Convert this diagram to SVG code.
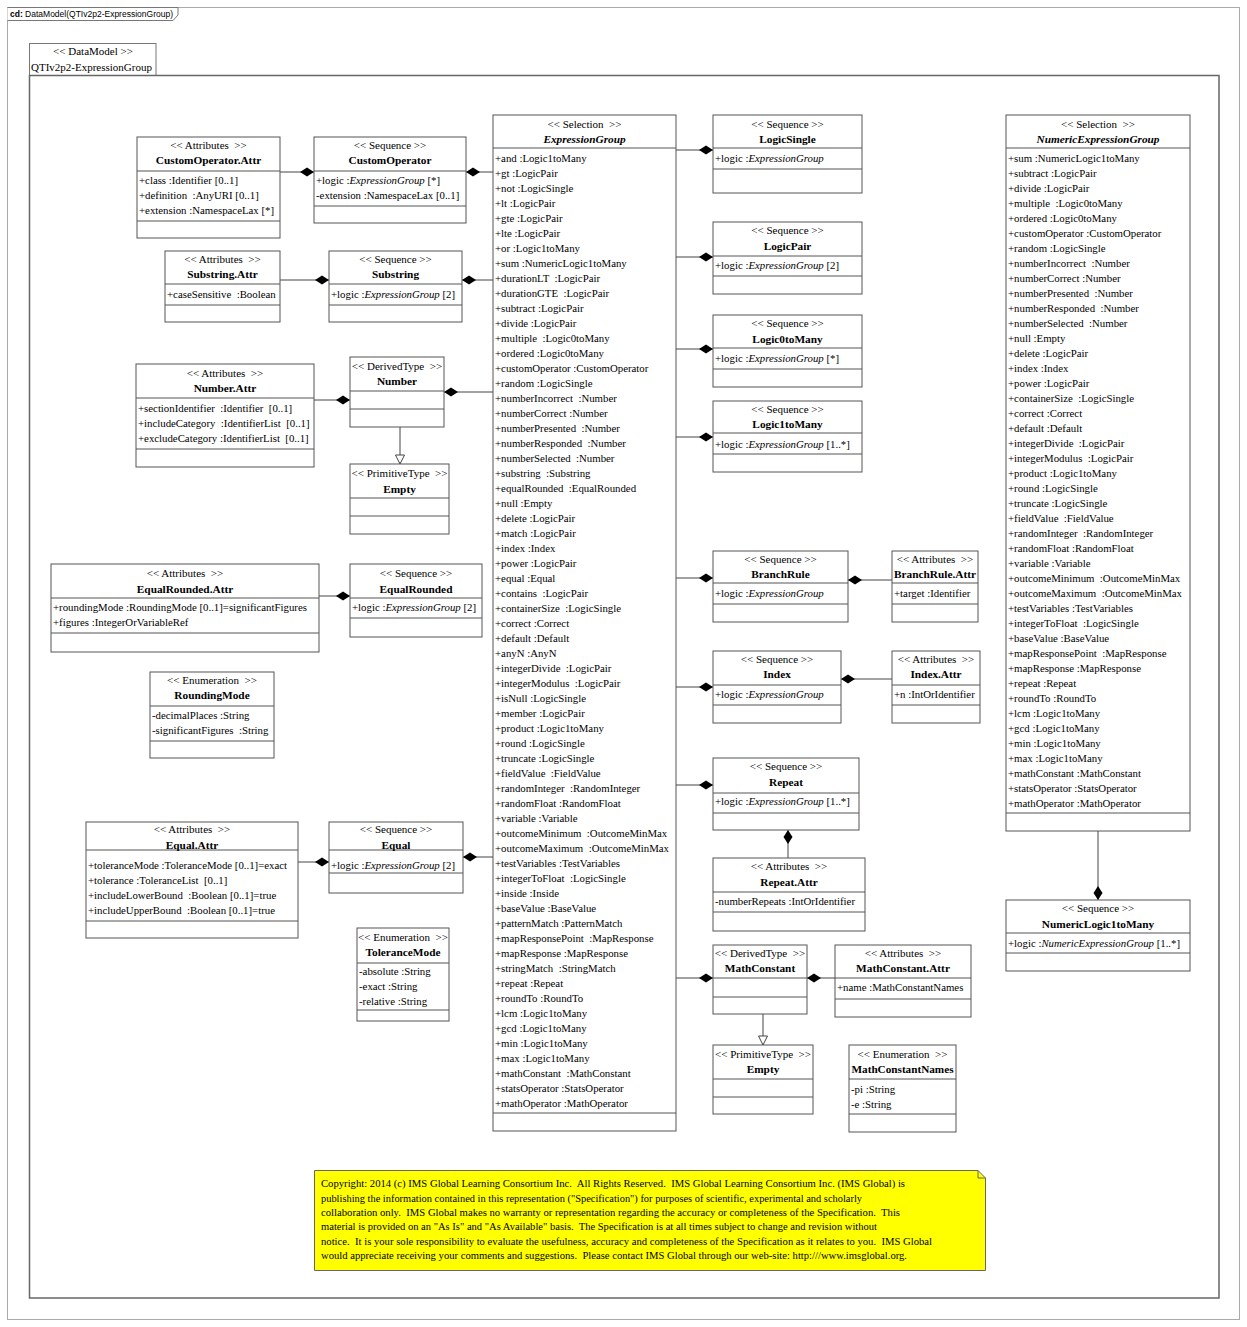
<svg xmlns="http://www.w3.org/2000/svg" width="1247" height="1327" viewBox="0 0 1247 1327">
<defs>
<style>
text{font-family:"Liberation Serif","Times New Roman",serif;fill:#000;white-space:pre}
.box{fill:#fff;stroke:#555;stroke-width:1}
.sep{fill:none;stroke:#555;stroke-width:1}
.st{font-size:11px;text-anchor:middle}
.nm{font-size:11.3px;font-weight:bold;text-anchor:middle}
.at{font-size:10.8px}
.it{font-style:italic}
.con{fill:none;stroke:#444;stroke-width:1}
.cp{font-size:10px}
</style>
<marker id="dm" markerUnits="userSpaceOnUse" markerWidth="16" markerHeight="11" viewBox="-15 -5.5 16 11" refX="0" refY="0" orient="auto"><path d="M0,0 L-7,-4.5 L-14,0 L-7,4.5 Z" fill="#000"/></marker>
<marker id="tri" markerUnits="userSpaceOnUse" markerWidth="12" markerHeight="12" viewBox="-11 -6 12 12" refX="0" refY="0" orient="auto"><path d="M0,0 L-9,-4.5 L-9,4.5 Z" fill="#fff" stroke="#444" stroke-width="1"/></marker>
</defs>
<rect x="0" y="0" width="1247" height="1327" fill="#fff"/>
<g id="frame">
<rect x="7.5" y="7.5" width="1232" height="1312" fill="none" stroke="#aaa"/>
<path d="M7.5,7.5 H178 V15 L173,20.5 H7.5" fill="#fff" stroke="#777"/>
<text x="10" y="17" style="font-family:'Liberation Sans',Arial,sans-serif;font-size:8.5px"><tspan font-weight="bold">cd:</tspan> DataModel(QTIv2p2-ExpressionGroup)</text>
</g>
<g id="package">
<rect x="29.5" y="43.5" width="126.5" height="32" fill="#fff" stroke="#777"/>
<rect x="29.5" y="75.5" width="1189.5" height="1222.5" fill="none" stroke="#666" stroke-width="1.5"/>
<text x="93" y="55" class="st">&lt;&lt; DataModel &gt;&gt;</text>
<text x="31" y="71" style="font-size:11px">QTIv2p2-ExpressionGroup</text>
</g>

<g id="connectors">
<path class="con" d="M280,172 H314" marker-end="url(#dm)"/>
<path class="con" d="M493,172 H466" marker-end="url(#dm)"/>
<path class="con" d="M280,280 H329" marker-end="url(#dm)"/>
<path class="con" d="M493,280 H462" marker-end="url(#dm)"/>
<path class="con" d="M314,400 H350" marker-end="url(#dm)"/>
<path class="con" d="M493,392 H444" marker-end="url(#dm)"/>
<path class="con" d="M400,427 V464" marker-end="url(#tri)"/>
<path class="con" d="M319,596 H350" marker-end="url(#dm)"/>
<path class="con" d="M298,862 H329" marker-end="url(#dm)"/>
<path class="con" d="M493,857 H463" marker-end="url(#dm)"/>
<path class="con" d="M676,150 H713" marker-end="url(#dm)"/>
<path class="con" d="M676,257 H713" marker-end="url(#dm)"/>
<path class="con" d="M676,349 H713" marker-end="url(#dm)"/>
<path class="con" d="M676,437 H713" marker-end="url(#dm)"/>
<path class="con" d="M676,578 H713" marker-end="url(#dm)"/>
<path class="con" d="M892,580 H848" marker-end="url(#dm)"/>
<path class="con" d="M676,687 H713" marker-end="url(#dm)"/>
<path class="con" d="M892,679 H841" marker-end="url(#dm)"/>
<path class="con" d="M676,785 H713" marker-end="url(#dm)"/>
<path class="con" d="M788,858 V830" marker-end="url(#dm)"/>
<path class="con" d="M676,978 H713" marker-end="url(#dm)"/>
<path class="con" d="M835,978 H807" marker-end="url(#dm)"/>
<path class="con" d="M763,1014 V1045" marker-end="url(#tri)"/>
<path class="con" d="M1098,831 V900" marker-end="url(#dm)"/>
</g>

<g id="CustomOperatorAttr">
<rect class="box" x="137" y="137" width="143" height="101"/>
<path class="sep" d="M137,171H280M137,221H280"/>
<text class="st" x="208.5" y="149">&lt;&lt; Attributes  &gt;&gt;</text>
<text class="nm" x="208.5" y="164">CustomOperator.Attr</text>
<text class="at" x="139" y="184">+class :Identifier [0..1]</text>
<text class="at" x="139" y="199">+definition  :AnyURI [0..1]</text>
<text class="at" x="139" y="214">+extension :NamespaceLax [*]</text>
</g>
<g id="CustomOperator">
<rect class="box" x="314" y="137" width="152" height="86"/>
<path class="sep" d="M314,171H466M314,206H466"/>
<text class="st" x="390" y="149">&lt;&lt; Sequence &gt;&gt;</text>
<text class="nm" x="390" y="164">CustomOperator</text>
<text class="at" x="316" y="184">+logic :<tspan class="it">ExpressionGroup</tspan> [*]</text>
<text class="at" x="316" y="199">-extension :NamespaceLax [0..1]</text>
</g>
<g id="SubstringAttr">
<rect class="box" x="165" y="251" width="115" height="71"/>
<path class="sep" d="M165,284H280M165,305H280"/>
<text class="st" x="222.5" y="263">&lt;&lt; Attributes  &gt;&gt;</text>
<text class="nm" x="222.5" y="278">Substring.Attr</text>
<text class="at" x="167" y="298">+caseSensitive  :Boolean</text>
</g>
<g id="Substring">
<rect class="box" x="329" y="251" width="133" height="71"/>
<path class="sep" d="M329,284H462M329,305H462"/>
<text class="st" x="395.5" y="263">&lt;&lt; Sequence &gt;&gt;</text>
<text class="nm" x="395.5" y="278">Substring</text>
<text class="at" x="331" y="298">+logic :<tspan class="it">ExpressionGroup</tspan> [2]</text>
</g>
<g id="NumberAttr">
<rect class="box" x="136" y="364" width="178" height="103"/>
<path class="sep" d="M136,398H314M136,449H314"/>
<text class="st" x="225" y="377">&lt;&lt; Attributes  &gt;&gt;</text>
<text class="nm" x="225" y="392">Number.Attr</text>
<text class="at" x="138" y="412">+sectionIdentifier  :Identifier  [0..1]</text>
<text class="at" x="138" y="427">+includeCategory  :IdentifierList  [0..1]</text>
<text class="at" x="138" y="442">+excludeCategory :IdentifierList  [0..1]</text>
</g>
<g id="Number">
<rect class="box" x="350" y="357" width="94" height="70"/>
<path class="sep" d="M350,391H444M350,409H444"/>
<text class="st" x="397" y="370">&lt;&lt; DerivedType  &gt;&gt;</text>
<text class="nm" x="397" y="385">Number</text>
</g>
<g id="Empty1">
<rect class="box" x="350" y="464" width="99" height="70"/>
<path class="sep" d="M350,498H449M350,516H449"/>
<text class="st" x="399.5" y="477">&lt;&lt; PrimitiveType  &gt;&gt;</text>
<text class="nm" x="399.5" y="493">Empty</text>
</g>
<g id="EqualRoundedAttr">
<rect class="box" x="51" y="564" width="268" height="88"/>
<path class="sep" d="M51,598H319M51,633H319"/>
<text class="st" x="185" y="577">&lt;&lt; Attributes  &gt;&gt;</text>
<text class="nm" x="185" y="593">EqualRounded.Attr</text>
<text class="at" x="53" y="611">+roundingMode :RoundingMode [0..1]=significantFigures</text>
<text class="at" x="53" y="626">+figures :IntegerOrVariableRef</text>
</g>
<g id="EqualRounded">
<rect class="box" x="350" y="564" width="132" height="73"/>
<path class="sep" d="M350,598H482M350,618H482"/>
<text class="st" x="416" y="577">&lt;&lt; Sequence &gt;&gt;</text>
<text class="nm" x="416" y="593">EqualRounded</text>
<text class="at" x="352" y="611">+logic :<tspan class="it">ExpressionGroup</tspan> [2]</text>
</g>
<g id="RoundingMode">
<rect class="box" x="150" y="672" width="124" height="86"/>
<path class="sep" d="M150,706H274M150,741H274"/>
<text class="st" x="212" y="684">&lt;&lt; Enumeration  &gt;&gt;</text>
<text class="nm" x="212" y="699">RoundingMode</text>
<text class="at" x="152" y="719">-decimalPlaces :String</text>
<text class="at" x="152" y="734">-significantFigures  :String</text>
</g>
<g id="EqualAttr">
<rect class="box" x="86" y="822" width="212" height="116"/>
<path class="sep" d="M86,850H298M86,921H298"/>
<text class="st" x="192" y="833">&lt;&lt; Attributes  &gt;&gt;</text>
<text class="nm" x="192" y="849">Equal.Attr</text>
<text class="at" x="88" y="869">+toleranceMode :ToleranceMode [0..1]=exact</text>
<text class="at" x="88" y="884">+tolerance :ToleranceList  [0..1]</text>
<text class="at" x="88" y="899">+includeLowerBound  :Boolean [0..1]=true</text>
<text class="at" x="88" y="914">+includeUpperBound  :Boolean [0..1]=true</text>
</g>
<g id="Equal">
<rect class="box" x="329" y="822" width="134" height="71"/>
<path class="sep" d="M329,850H463M329,873H463"/>
<text class="st" x="396" y="833">&lt;&lt; Sequence &gt;&gt;</text>
<text class="nm" x="396" y="849">Equal</text>
<text class="at" x="331" y="869">+logic :<tspan class="it">ExpressionGroup</tspan> [2]</text>
</g>
<g id="ToleranceMode">
<rect class="box" x="357" y="928" width="92" height="93"/>
<path class="sep" d="M357,963H449M357,1010H449"/>
<text class="st" x="403" y="941">&lt;&lt; Enumeration  &gt;&gt;</text>
<text class="nm" x="403" y="956">ToleranceMode</text>
<text class="at" x="359" y="975">-absolute :String</text>
<text class="at" x="359" y="990">-exact :String</text>
<text class="at" x="359" y="1005">-relative :String</text>
</g>

<g id="ExpressionGroup">
<rect class="box" x="493" y="115" width="183" height="1016"/>
<path class="sep" d="M493,148H676M493,1113H676"/>
<text class="st" x="584.5" y="128">&lt;&lt; Selection  &gt;&gt;</text>
<text class="nm it" x="584.5" y="143">ExpressionGroup</text>
<text class="at" x="495" y="162">+and :Logic1toMany</text>
<text class="at" x="495" y="177">+gt :LogicPair</text>
<text class="at" x="495" y="192">+not :LogicSingle</text>
<text class="at" x="495" y="207">+lt :LogicPair</text>
<text class="at" x="495" y="222">+gte :LogicPair</text>
<text class="at" x="495" y="237">+lte :LogicPair</text>
<text class="at" x="495" y="252">+or :Logic1toMany</text>
<text class="at" x="495" y="267">+sum :NumericLogic1toMany</text>
<text class="at" x="495" y="282">+durationLT  :LogicPair</text>
<text class="at" x="495" y="297">+durationGTE  :LogicPair</text>
<text class="at" x="495" y="312">+subtract :LogicPair</text>
<text class="at" x="495" y="327">+divide :LogicPair</text>
<text class="at" x="495" y="342">+multiple  :Logic0toMany</text>
<text class="at" x="495" y="357">+ordered :Logic0toMany</text>
<text class="at" x="495" y="372">+customOperator :CustomOperator</text>
<text class="at" x="495" y="387">+random :LogicSingle</text>
<text class="at" x="495" y="402">+numberIncorrect  :Number</text>
<text class="at" x="495" y="417">+numberCorrect :Number</text>
<text class="at" x="495" y="432">+numberPresented  :Number</text>
<text class="at" x="495" y="447">+numberResponded  :Number</text>
<text class="at" x="495" y="462">+numberSelected  :Number</text>
<text class="at" x="495" y="477">+substring  :Substring</text>
<text class="at" x="495" y="492">+equalRounded  :EqualRounded</text>
<text class="at" x="495" y="507">+null :Empty</text>
<text class="at" x="495" y="522">+delete :LogicPair</text>
<text class="at" x="495" y="537">+match :LogicPair</text>
<text class="at" x="495" y="552">+index :Index</text>
<text class="at" x="495" y="567">+power :LogicPair</text>
<text class="at" x="495" y="582">+equal :Equal</text>
<text class="at" x="495" y="597">+contains  :LogicPair</text>
<text class="at" x="495" y="612">+containerSize  :LogicSingle</text>
<text class="at" x="495" y="627">+correct :Correct</text>
<text class="at" x="495" y="642">+default :Default</text>
<text class="at" x="495" y="657">+anyN :AnyN</text>
<text class="at" x="495" y="672">+integerDivide  :LogicPair</text>
<text class="at" x="495" y="687">+integerModulus  :LogicPair</text>
<text class="at" x="495" y="702">+isNull :LogicSingle</text>
<text class="at" x="495" y="717">+member :LogicPair</text>
<text class="at" x="495" y="732">+product :Logic1toMany</text>
<text class="at" x="495" y="747">+round :LogicSingle</text>
<text class="at" x="495" y="762">+truncate :LogicSingle</text>
<text class="at" x="495" y="777">+fieldValue  :FieldValue</text>
<text class="at" x="495" y="792">+randomInteger  :RandomInteger</text>
<text class="at" x="495" y="807">+randomFloat :RandomFloat</text>
<text class="at" x="495" y="822">+variable :Variable</text>
<text class="at" x="495" y="837">+outcomeMinimum  :OutcomeMinMax</text>
<text class="at" x="495" y="852">+outcomeMaximum  :OutcomeMinMax</text>
<text class="at" x="495" y="867">+testVariables :TestVariables</text>
<text class="at" x="495" y="882">+integerToFloat  :LogicSingle</text>
<text class="at" x="495" y="897">+inside :Inside</text>
<text class="at" x="495" y="912">+baseValue :BaseValue</text>
<text class="at" x="495" y="927">+patternMatch :PatternMatch</text>
<text class="at" x="495" y="942">+mapResponsePoint  :MapResponse</text>
<text class="at" x="495" y="957">+mapResponse :MapResponse</text>
<text class="at" x="495" y="972">+stringMatch  :StringMatch</text>
<text class="at" x="495" y="987">+repeat :Repeat</text>
<text class="at" x="495" y="1002">+roundTo :RoundTo</text>
<text class="at" x="495" y="1017">+lcm :Logic1toMany</text>
<text class="at" x="495" y="1032">+gcd :Logic1toMany</text>
<text class="at" x="495" y="1047">+min :Logic1toMany</text>
<text class="at" x="495" y="1062">+max :Logic1toMany</text>
<text class="at" x="495" y="1077">+mathConstant  :MathConstant</text>
<text class="at" x="495" y="1092">+statsOperator :StatsOperator</text>
<text class="at" x="495" y="1107">+mathOperator :MathOperator</text>
</g>

<g id="LogicSingle">
<rect class="box" x="713" y="115" width="149" height="78"/>
<path class="sep" d="M713,148H862M713,169H862"/>
<text class="st" x="787.5" y="128">&lt;&lt; Sequence &gt;&gt;</text>
<text class="nm" x="787.5" y="143">LogicSingle</text>
<text class="at" x="715" y="162">+logic :<tspan class="it">ExpressionGroup</tspan></text>
</g>
<g id="LogicPair">
<rect class="box" x="713" y="222" width="149" height="72"/>
<path class="sep" d="M713,256H862M713,276H862"/>
<text class="st" x="787.5" y="234">&lt;&lt; Sequence &gt;&gt;</text>
<text class="nm" x="787.5" y="250">LogicPair</text>
<text class="at" x="715" y="269">+logic :<tspan class="it">ExpressionGroup</tspan> [2]</text>
</g>
<g id="Logic0toMany">
<rect class="box" x="713" y="315" width="149" height="72"/>
<path class="sep" d="M713,348H862M713,369H862"/>
<text class="st" x="787.5" y="327">&lt;&lt; Sequence &gt;&gt;</text>
<text class="nm" x="787.5" y="343">Logic0toMany</text>
<text class="at" x="715" y="362">+logic :<tspan class="it">ExpressionGroup</tspan> [*]</text>
</g>
<g id="Logic1toMany">
<rect class="box" x="713" y="401" width="149" height="71"/>
<path class="sep" d="M713,433H862M713,454H862"/>
<text class="st" x="787.5" y="413">&lt;&lt; Sequence &gt;&gt;</text>
<text class="nm" x="787.5" y="428">Logic1toMany</text>
<text class="at" x="715" y="448">+logic :<tspan class="it">ExpressionGroup</tspan> [1..*]</text>
</g>
<g id="BranchRule">
<rect class="box" x="713" y="551" width="135" height="71"/>
<path class="sep" d="M713,583H848M713,604H848"/>
<text class="st" x="780.5" y="563">&lt;&lt; Sequence &gt;&gt;</text>
<text class="nm" x="780.5" y="578">BranchRule</text>
<text class="at" x="715" y="597">+logic :<tspan class="it">ExpressionGroup</tspan></text>
</g>
<g id="BranchRuleAttr">
<rect class="box" x="892" y="551" width="86" height="71"/>
<path class="sep" d="M892,583H978M892,604H978"/>
<text class="st" x="935" y="563">&lt;&lt; Attributes  &gt;&gt;</text>
<text class="nm" x="935" y="578" textLength="82" lengthAdjust="spacingAndGlyphs">BranchRule.Attr</text>
<text class="at" x="894" y="597">+target :Identifier</text>
</g>
<g id="Index">
<rect class="box" x="713" y="651" width="128" height="72"/>
<path class="sep" d="M713,685H841M713,705H841"/>
<text class="st" x="777" y="663">&lt;&lt; Sequence &gt;&gt;</text>
<text class="nm" x="777" y="678">Index</text>
<text class="at" x="715" y="698">+logic :<tspan class="it">ExpressionGroup</tspan></text>
</g>
<g id="IndexAttr">
<rect class="box" x="892" y="651" width="88" height="72"/>
<path class="sep" d="M892,685H980M892,705H980"/>
<text class="st" x="936" y="663">&lt;&lt; Attributes  &gt;&gt;</text>
<text class="nm" x="936" y="678">Index.Attr</text>
<text class="at" x="894" y="698">+n :IntOrIdentifier</text>
</g>
<g id="Repeat">
<rect class="box" x="713" y="758" width="146" height="72"/>
<path class="sep" d="M713,793H859M713,813H859"/>
<text class="st" x="786" y="770">&lt;&lt; Sequence &gt;&gt;</text>
<text class="nm" x="786" y="786">Repeat</text>
<text class="at" x="715" y="805">+logic :<tspan class="it">ExpressionGroup</tspan> [1..*]</text>
</g>
<g id="RepeatAttr">
<rect class="box" x="713" y="858" width="152" height="73"/>
<path class="sep" d="M713,892H865M713,912H865"/>
<text class="st" x="789" y="870">&lt;&lt; Attributes  &gt;&gt;</text>
<text class="nm" x="789" y="886">Repeat.Attr</text>
<text class="at" x="715" y="905">-numberRepeats :IntOrIdentifier</text>
</g>
<g id="MathConstant">
<rect class="box" x="713" y="945" width="94" height="69"/>
<path class="sep" d="M713,978H807M713,997H807"/>
<text class="st" x="760" y="957">&lt;&lt; DerivedType  &gt;&gt;</text>
<text class="nm" x="760" y="972">MathConstant</text>
</g>
<g id="MathConstantAttr">
<rect class="box" x="835" y="945" width="136" height="72"/>
<path class="sep" d="M835,978H971M835,999H971"/>
<text class="st" x="903" y="957">&lt;&lt; Attributes  &gt;&gt;</text>
<text class="nm" x="903" y="972">MathConstant.Attr</text>
<text class="at" x="837" y="991">+name :MathConstantNames</text>
</g>
<g id="Empty2">
<rect class="box" x="713" y="1045" width="100" height="69"/>
<path class="sep" d="M713,1079H813M713,1097H813"/>
<text class="st" x="763" y="1058">&lt;&lt; PrimitiveType  &gt;&gt;</text>
<text class="nm" x="763" y="1073">Empty</text>
</g>
<g id="MathConstantNames">
<rect class="box" x="849" y="1045" width="107" height="87"/>
<path class="sep" d="M849,1079H956M849,1114H956"/>
<text class="st" x="902.5" y="1058">&lt;&lt; Enumeration  &gt;&gt;</text>
<text class="nm" x="902.5" y="1073" textLength="102" lengthAdjust="spacingAndGlyphs">MathConstantNames</text>
<text class="at" x="851" y="1093">-pi :String</text>
<text class="at" x="851" y="1108">-e :String</text>
</g>

<g id="NumericExpressionGroup">
<rect class="box" x="1006" y="115" width="184" height="716"/>
<path class="sep" d="M1006,148H1190M1006,813H1190"/>
<text class="st" x="1098" y="128">&lt;&lt; Selection  &gt;&gt;</text>
<text class="nm it" x="1098" y="143">NumericExpressionGroup</text>
<text class="at" x="1008" y="162">+sum :NumericLogic1toMany</text>
<text class="at" x="1008" y="177">+subtract :LogicPair</text>
<text class="at" x="1008" y="192">+divide :LogicPair</text>
<text class="at" x="1008" y="207">+multiple  :Logic0toMany</text>
<text class="at" x="1008" y="222">+ordered :Logic0toMany</text>
<text class="at" x="1008" y="237">+customOperator :CustomOperator</text>
<text class="at" x="1008" y="252">+random :LogicSingle</text>
<text class="at" x="1008" y="267">+numberIncorrect  :Number</text>
<text class="at" x="1008" y="282">+numberCorrect :Number</text>
<text class="at" x="1008" y="297">+numberPresented  :Number</text>
<text class="at" x="1008" y="312">+numberResponded  :Number</text>
<text class="at" x="1008" y="327">+numberSelected  :Number</text>
<text class="at" x="1008" y="342">+null :Empty</text>
<text class="at" x="1008" y="357">+delete :LogicPair</text>
<text class="at" x="1008" y="372">+index :Index</text>
<text class="at" x="1008" y="387">+power :LogicPair</text>
<text class="at" x="1008" y="402">+containerSize  :LogicSingle</text>
<text class="at" x="1008" y="417">+correct :Correct</text>
<text class="at" x="1008" y="432">+default :Default</text>
<text class="at" x="1008" y="447">+integerDivide  :LogicPair</text>
<text class="at" x="1008" y="462">+integerModulus  :LogicPair</text>
<text class="at" x="1008" y="477">+product :Logic1toMany</text>
<text class="at" x="1008" y="492">+round :LogicSingle</text>
<text class="at" x="1008" y="507">+truncate :LogicSingle</text>
<text class="at" x="1008" y="522">+fieldValue  :FieldValue</text>
<text class="at" x="1008" y="537">+randomInteger  :RandomInteger</text>
<text class="at" x="1008" y="552">+randomFloat :RandomFloat</text>
<text class="at" x="1008" y="567">+variable :Variable</text>
<text class="at" x="1008" y="582">+outcomeMinimum  :OutcomeMinMax</text>
<text class="at" x="1008" y="597">+outcomeMaximum  :OutcomeMinMax</text>
<text class="at" x="1008" y="612">+testVariables :TestVariables</text>
<text class="at" x="1008" y="627">+integerToFloat  :LogicSingle</text>
<text class="at" x="1008" y="642">+baseValue :BaseValue</text>
<text class="at" x="1008" y="657">+mapResponsePoint  :MapResponse</text>
<text class="at" x="1008" y="672">+mapResponse :MapResponse</text>
<text class="at" x="1008" y="687">+repeat :Repeat</text>
<text class="at" x="1008" y="702">+roundTo :RoundTo</text>
<text class="at" x="1008" y="717">+lcm :Logic1toMany</text>
<text class="at" x="1008" y="732">+gcd :Logic1toMany</text>
<text class="at" x="1008" y="747">+min :Logic1toMany</text>
<text class="at" x="1008" y="762">+max :Logic1toMany</text>
<text class="at" x="1008" y="777">+mathConstant :MathConstant</text>
<text class="at" x="1008" y="792">+statsOperator :StatsOperator</text>
<text class="at" x="1008" y="807">+mathOperator :MathOperator</text>
</g>
<g id="NumericLogic1toMany">
<rect class="box" x="1006" y="900" width="184" height="71"/>
<path class="sep" d="M1006,933H1190M1006,953H1190"/>
<text class="st" x="1098" y="912">&lt;&lt; Sequence &gt;&gt;</text>
<text class="nm" x="1098" y="928">NumericLogic1toMany</text>
<text class="at" x="1008" y="947">+logic :<tspan class="it">NumericExpressionGroup</tspan> [1..*]</text>
</g>

<g id="CopyrightNote">
<path d="M314.5,1170.5 H978 L985.5,1178 V1270.5 H314.5 Z" fill="#ffff00" stroke="#666"/>
<path d="M978,1170.5 V1178 H985.5" fill="none" stroke="#666"/>
<text class="cp" x="321" y="1187" textLength="584" lengthAdjust="spacingAndGlyphs">Copyright: 2014 (c) IMS Global Learning Consortium Inc.  All Rights Reserved.  IMS Global Learning Consortium Inc. (IMS Global) is</text>
<text class="cp" x="321" y="1202" textLength="541" lengthAdjust="spacingAndGlyphs">publishing the information contained in this representation ("Specification") for purposes of scientific, experimental and scholarly</text>
<text class="cp" x="321" y="1216" textLength="579" lengthAdjust="spacingAndGlyphs">collaboration only.  IMS Global makes no warranty or representation regarding the accuracy or completeness of the Specification.  This</text>
<text class="cp" x="321" y="1230" textLength="556" lengthAdjust="spacingAndGlyphs">material is provided on an "As Is" and "As Available" basis.  The Specification is at all times subject to change and revision without</text>
<text class="cp" x="321" y="1245" textLength="611" lengthAdjust="spacingAndGlyphs">notice.  It is your sole responsibility to evaluate the usefulness, accuracy and completeness of the Specification as it relates to you.  IMS Global</text>
<text class="cp" x="321" y="1259" textLength="586" lengthAdjust="spacingAndGlyphs">would appreciate receiving your comments and suggestions.  Please contact IMS Global through our web-site: http:///www.imsglobal.org.</text>
</g>
</svg>
